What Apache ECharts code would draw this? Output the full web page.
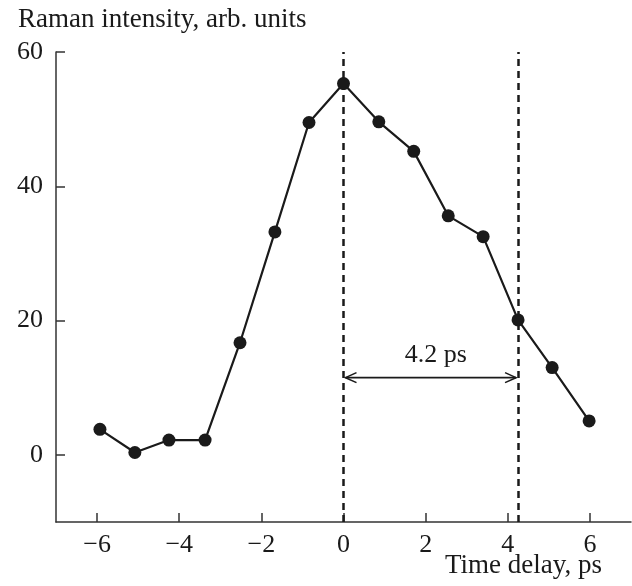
<!DOCTYPE html>
<html>
<head>
<meta charset="utf-8">
<script src="https://cdn.jsdelivr.net/npm/echarts@6/dist/echarts.min.js"></script>
<style>html,body{margin:0;padding:0;background:#fff}#c{width:632px;height:586px}</style>
</head>
<body>
<div id="c"></div>
<script>
// ---- data ----
var timeDelay = [-5.93, -5.08, -4.25, -3.37, -2.52, -1.67, -0.84, 0, 0.86, 1.71, 2.55, 3.40, 4.25, 5.08, 5.98];
var intensity = [3.8, 0.35, 2.2, 2.2, 16.7, 33.2, 49.5, 55.3, 49.6, 45.2, 35.6, 32.5, 20.1, 13.0, 5.05];
var xTicks = [-6, -4, -2, 0, 2, 4, 6];
var yTicks = [0, 20, 40, 60];
var dashedX = [0, 4.25];
var arrowFrom = [0, 11.5];
var arrowTo = [4.25, 11.5];
var arrowLabel = '4.2 ps';
var arrowLabelPos = [2.25, 14.8];

var FONT = 'Liberation Serif';
var INK = '#1a1a1a';
var chart = echarts.init(document.getElementById('c'));
var pts = timeDelay.map(function (x, i) { return [x, intensity[i]]; });
function fmt(v) { return String(v).replace('-', '\u2212'); }

chart.setOption({
  animation: false,
  title: [
    { text: 'Raman intensity, arb. units', left: 13, top: 1,
      textStyle: { fontFamily: FONT, fontSize: 27, fontWeight: 'normal', color: INK } },
    { text: 'Time delay, ps', left: 440, top: 547,
      textStyle: { fontFamily: FONT, fontSize: 27, fontWeight: 'normal', color: INK } }
  ],
  grid: { left: 56, right: 1, top: 52, bottom: 64 },
  xAxis: {
    type: 'value', min: -7, max: 7,
    axisLine: { show: true, onZero: false, lineStyle: { color: '#333', width: 1.5 } },
    axisTick: { show: true, inside: true, length: 9, customValues: xTicks, lineStyle: { color: '#333', width: 1.5 } },
    axisLabel: { customValues: xTicks, formatter: fmt, margin: 10, fontFamily: FONT, fontSize: 26, color: INK },
    splitLine: { show: false }
  },
  yAxis: {
    type: 'value', min: -10, max: 60,
    axisLine: { show: true, onZero: false, lineStyle: { color: '#333', width: 1.5 } },
    axisTick: { show: true, inside: true, length: 9, customValues: yTicks, lineStyle: { color: '#333', width: 1.5 } },
    axisLabel: { customValues: yTicks, formatter: fmt, margin: 13, fontFamily: FONT, fontSize: 26, color: INK },
    splitLine: { show: false }
  },
  series: [
    {
      type: 'line', data: pts, symbol: 'circle', symbolSize: 13,
      lineStyle: { color: INK, width: 2.2 },
      itemStyle: { color: INK },
      z: 5,
      markLine: {
        silent: true, symbol: ['none', 'none'], label: { show: false },
        lineStyle: { color: INK, width: 2.5, type: [7, 5] },
        data: dashedX.map(function (x) { return { xAxis: x }; })
      }
    },
    {
      type: 'custom', data: [[arrowFrom[0], arrowFrom[1], arrowTo[0], arrowTo[1]]],
      renderItem: function (params, api) {
        var a = api.coord([api.value(0), api.value(1)]);
        var b = api.coord([api.value(2), api.value(3)]);
        var lp = api.coord(arrowLabelPos);
        var s = { stroke: INK, lineWidth: 1.6, fill: null };
        return {
          type: 'group',
          children: [
            { type: 'line', shape: { x1: a[0] + 2, y1: a[1], x2: b[0] - 2, y2: b[1] }, style: s },
            { type: 'polyline', shape: { points: [[a[0] + 13, a[1] - 5], [a[0] + 2, a[1]], [a[0] + 13, a[1] + 5]] }, style: s },
            { type: 'polyline', shape: { points: [[b[0] - 13, b[1] - 5], [b[0] - 2, b[1]], [b[0] - 13, b[1] + 5]] }, style: s },
            { type: 'text', x: lp[0], y: lp[1], style: { text: arrowLabel, fontFamily: FONT, fontSize: 26, fill: INK, align: 'center', verticalAlign: 'middle' } }
          ]
        };
      },
      z: 6
    }
  ]
});
</script>
</body>
</html>
